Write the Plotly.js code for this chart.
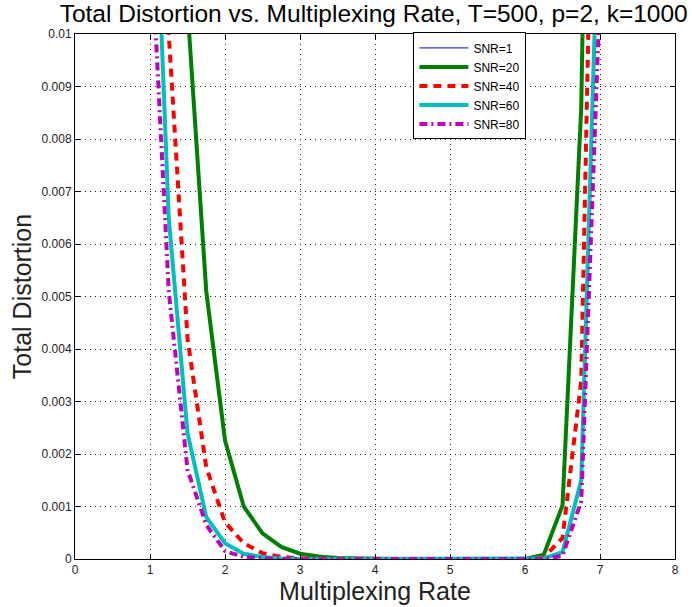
<!DOCTYPE html>
<html>
<head>
<meta charset="utf-8">
<script src="https://cdn.plot.ly/plotly-3.0.1.min.js"></script>
<style>html,body{margin:0;padding:0;background:#fff;}#chart{width:692px;height:607px;}</style>
</head>
<body>
<div id="chart"></div>
<script>
// Multiplexing rate samples
const rate = [1.0,1.25,1.5,1.75,2.0,2.25,2.5,2.75,3.0,3.25,3.5,3.75,4.0,4.25,4.5,4.75,5.0,5.25,5.5,5.75,6.0,6.25,6.5,6.75,7.0];
// SNR=1 curve lies entirely above the plotted range (estimated, off-chart)
const snr1Rate = [3.0, 4.0, 5.0];
const snr1 = [0.03, 0.02, 0.03];
const snr20 = [0.045,0.022,0.0105,0.0051,0.00226,0.0010,0.00049,0.00023,0.0001,0.00005,0.00002,0.00001,0,0,0,0,0,0,0,0,0,0.00008,0.00102,0.0086,0.03];
const snr40 = [0.024,0.0100,0.0042,0.00175,0.0007,0.0003,0.00011,0.00004,0.00001,0,0,0,0,0,0,0,0,0,0,0,0,0.00003,0.0004,0.0034,0.021];
const snr60 = [0.0156,0.0065,0.0024,0.0008,0.0003,0.0001,0.00004,0.00001,0,0,0,0,0,0,0,0,0,0,0,0,0,0.00001,0.00013,0.0015,0.0135];
const snr80 = [0.0122,0.0051,0.0017,0.00065,0.00015,0.00004,0.00001,0,0,0,0,0,0,0,0,0,0,0,0,0,0,0,0.00006,0.0011,0.0108];
const names = ['SNR=1','SNR=20','SNR=40','SNR=60','SNR=80'];
const xTicks = [0,1,2,3,4,5,6,7,8];
const yTicks = [0,0.001,0.002,0.003,0.004,0.005,0.006,0.007,0.008,0.009,0.01];
const yTickText = ['0','0.001','0.002','0.003','0.004','0.005','0.006','0.007','0.008','0.009','0.01'];

const traces = [
  {x: snr1Rate, y: snr1, name: names[0], mode: 'lines', line: {color: '#3333ff', width: 1.2}},
  {x: rate, y: snr20, name: names[1], mode: 'lines', line: {color: '#008000', width: 4}},
  {x: rate, y: snr40, name: names[2], mode: 'lines', line: {color: '#ff0000', width: 4, dash: '8px,6px'}},
  {x: rate, y: snr60, name: names[3], mode: 'lines', line: {color: '#00bfbf', width: 4}},
  {x: rate, y: snr80, name: names[4], mode: 'lines', line: {color: '#bf00bf', width: 4, dash: '8px,4px,2px,4px'}}
];

const axisCommon = {
  showline: true, linecolor: '#000', linewidth: 1, mirror: 'ticks',
  ticks: 'inside', ticklen: 5, tickcolor: '#000',
  showgrid: true, gridcolor: '#222', griddash: '1px,4px', gridwidth: 1,
  zeroline: false,
  tickfont: {family: 'Arial, Liberation Sans, sans-serif', size: 12, color: '#222'}
};

const layout = {
  width: 692, height: 607,
  margin: {l: 75, r: 17, t: 34, b: 48},
  paper_bgcolor: '#fff', plot_bgcolor: '#fff',
  font: {family: 'Arial, Liberation Sans, sans-serif', color: '#000'},
  title: {text: 'Total Distortion vs. Multiplexing Rate, T=500, p=2, k=1000',
          font: {size: 24.5, color: '#000'}, x: 0.54, xanchor: 'center', y: 0.978, yanchor: 'middle'},
  xaxis: Object.assign({}, axisCommon, {
    range: [0, 8], tickvals: xTicks, ticktext: xTicks.map(String),
    title: {text: 'Multiplexing Rate', font: {size: 25, color: '#222'}, standoff: 2}
  }),
  yaxis: Object.assign({}, axisCommon, {
    range: [0, 0.01], tickvals: yTicks, ticktext: yTickText,
    title: {text: 'Total Distortion', font: {size: 25, color: '#222'}, standoff: 2}
  }),
  legend: {
    x: 0.564, y: 1.003, xanchor: 'left', yanchor: 'top',
    bgcolor: '#fff', bordercolor: '#000', borderwidth: 1,
    font: {size: 12, color: '#000'}, tracegroupgap: 0, itemwidth: 49
  },
  showlegend: true
};

Plotly.newPlot('chart', traces, layout, {displayModeBar: false, staticPlot: true});
</script>
</body>
</html>
